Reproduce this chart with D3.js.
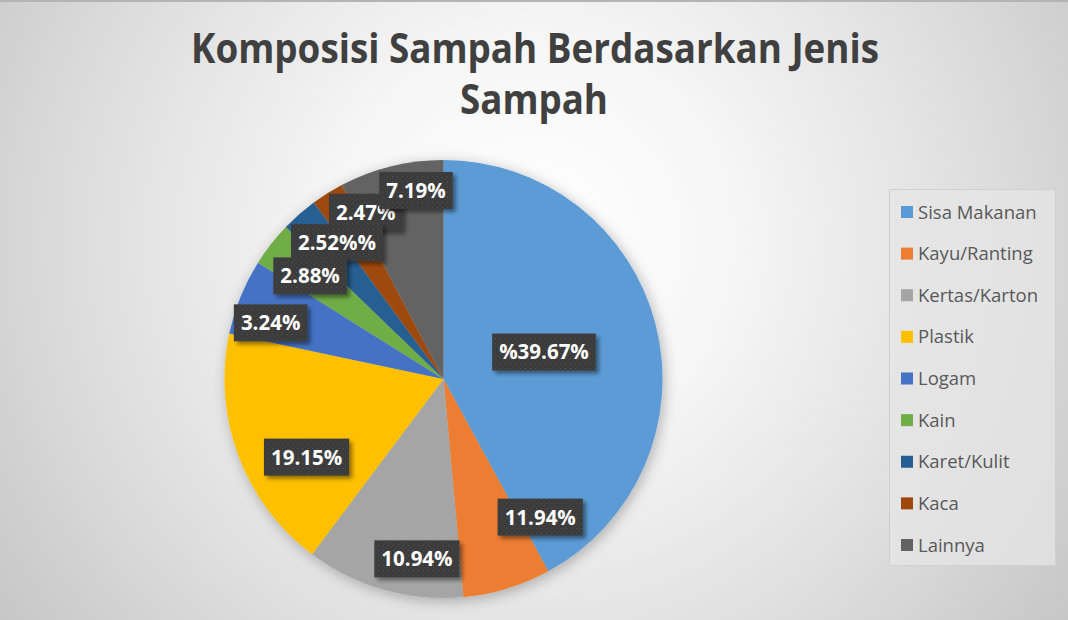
<!DOCTYPE html>
<html>
<head>
<meta charset="utf-8">
<script src="https://cdn.jsdelivr.net/npm/d3@7"></script>
<style>
  html, body { margin: 0; padding: 0; background: #ffffff; }
  svg { display: block; }
</style>
</head>
<body>
<svg id="chart" width="1068" height="620"></svg>
<script>
// ---- data ----
const categories = ["Sisa Makanan", "Kayu/Ranting", "Kertas/Karton", "Plastik", "Logam", "Kain", "Karet/Kulit", "Kaca", "Lainnya"];
// slice sizes as drawn in the picture (percent of the circle)
const sliceValues = [42.1, 6.5, 11.7, 18.1, 5.6, 3.3, 2.7, 2.4, 7.7];
// data label texts exactly as printed on the chart
const labelTexts = ["%39.67%", "11.94%", "10.94%", "19.15%", "3.24%", "2.88%", "2.52%%", "2.47%", "7.19%"];
const colors = ["#5B9BD5", "#ED7D31", "#A5A5A5", "#FFC000", "#4472C4", "#70AD47", "#255E91", "#9E480E", "#636363"];
const titleLines = ["Komposisi Sampah Berdasarkan Jenis", "Sampah"];

// label anchors (polar: degrees clockwise from 12 o'clock, fraction of radius)
const labelAngles = [75, 145, 188.4, 240.3, 288, 307.7, 322, 335, 351.7];
const labelRadii = [0.475, 0.77, 0.83, 0.72, 0.83, 0.77, 0.79, 0.84, 0.87];
const labelOrder = [0, 1, 2, 3, 7, 6, 5, 4, 8];

// ---- layout ----
const W = 1068, H = 620;
const cx = 443.5, cy = 379, R = 219;

const svg = d3.select("#chart");
const defs = svg.append("defs");

// background gradient
const bg = defs.append("radialGradient").attr("id", "bg")
  .attr("gradientUnits", "userSpaceOnUse")
  .attr("cx", 534).attr("cy", 240).attr("r", 660);
bg.append("stop").attr("offset", 0).attr("stop-color", "#ffffff");
bg.append("stop").attr("offset", 0.3).attr("stop-color", "#f6f6f6");
bg.append("stop").attr("offset", 0.65).attr("stop-color", "#e0e0e0");
bg.append("stop").attr("offset", 1).attr("stop-color", "#c6c6c6");

svg.append("rect").attr("width", W).attr("height", H).attr("fill", "url(#bg)");
svg.append("rect").attr("width", W).attr("height", 2).attr("fill", "#b4b4b4");

// pie shadow
const sh = defs.append("filter").attr("id", "pieShadow")
  .attr("x", "-20%").attr("y", "-20%").attr("width", "140%").attr("height", "140%");
sh.append("feGaussianBlur").attr("in", "SourceAlpha").attr("stdDeviation", 7).attr("result", "b");
sh.append("feOffset").attr("in", "b").attr("dx", 2).attr("dy", 3).attr("result", "o");
sh.append("feComponentTransfer").attr("in", "o").attr("result", "t")
  .append("feFuncA").attr("type", "linear").attr("slope", 0.28);
const shm = sh.append("feMerge");
shm.append("feMergeNode").attr("in", "t");
shm.append("feMergeNode").attr("in", "SourceGraphic");

// label shadow
const lsh = defs.append("filter").attr("id", "lblShadow")
  .attr("x", "-20%").attr("y", "-30%").attr("width", "150%").attr("height", "170%");
lsh.append("feGaussianBlur").attr("in", "SourceAlpha").attr("stdDeviation", 2).attr("result", "b");
lsh.append("feOffset").attr("in", "b").attr("dx", 3).attr("dy", 3).attr("result", "o");
lsh.append("feComponentTransfer").attr("in", "o").attr("result", "t")
  .append("feFuncA").attr("type", "linear").attr("slope", 0.45);
const lshm = lsh.append("feMerge");
lshm.append("feMergeNode").attr("in", "t");
lshm.append("feMergeNode").attr("in", "SourceGraphic");

// dotted texture for label boxes
const pat = defs.append("pattern").attr("id", "dots")
  .attr("patternUnits", "userSpaceOnUse").attr("width", 5).attr("height", 5);
pat.append("rect").attr("width", 5).attr("height", 5).attr("fill", "#3b3b3b");
pat.append("rect").attr("x", 1).attr("y", 1).attr("width", 1).attr("height", 1).attr("fill", "#5a5a5a");
pat.append("rect").attr("x", 3.5).attr("y", 3.5).attr("width", 1).attr("height", 1).attr("fill", "#4e4e4e");

// title
const title = svg.append("g").attr("font-family", "'Open Sans', sans-serif")
  .attr("font-weight", "bold").attr("fill", "#404040").attr("text-anchor", "middle");
title.append("text").attr("x", 535).attr("y", 63).attr("font-size", 41)
  .attr("textLength", 688).attr("lengthAdjust", "spacingAndGlyphs").text(titleLines[0]);
title.append("text").attr("x", 534).attr("y", 114).attr("font-size", 41)
  .attr("textLength", 148).attr("lengthAdjust", "spacingAndGlyphs").text(titleLines[1]);

// pie
const pie = d3.pie().sort(null).value(d => d.v);
const data = categories.map((c, i) => ({ c, v: sliceValues[i], i }));
const arcs = pie(data);
const arc = d3.arc().innerRadius(0).outerRadius(R);

const pg = svg.append("g").attr("transform", `translate(${cx},${cy})`).attr("filter", "url(#pieShadow)");
pg.selectAll("path").data(arcs).enter().append("path")
  .attr("d", arc).attr("fill", d => colors[d.data.i]);

// data labels
const lg = svg.append("g").attr("transform", `translate(${cx},${cy})`);
labelOrder.forEach(i => {
  const a = labelAngles[i] * Math.PI / 180;
  const r = labelRadii[i] * R;
  const x = Math.sin(a) * r, y = -Math.cos(a) * r;
  const g = lg.append("g").attr("transform", `translate(${x},${y})`);
  const box = g.append("rect").attr("fill", "url(#dots)").attr("filter", "url(#lblShadow)");
  const t = g.append("text").attr("text-anchor", "middle").attr("dy", "0.36em")
    .attr("font-family", "'Open Sans', sans-serif").attr("font-weight", "bold")
    .attr("font-size", 20.5).attr("fill", "#ffffff").text(labelTexts[i]);
  const w = t.node().getComputedTextLength();
  box.attr("x", -w / 2 - 7).attr("y", -18.5).attr("width", w + 14).attr("height", 37);
});

// legend
const legend = svg.append("g");
legend.append("rect").attr("x", 889.5).attr("y", 189.5).attr("width", 166).attr("height", 376)
  .attr("fill", "#e6e6e6").attr("fill-opacity", 0.75).attr("stroke", "#d0d0d0").attr("stroke-width", 1);
const rowY = d3.scalePoint().domain(categories).range([212, 545]);
const items = legend.selectAll("g.item").data(categories).enter().append("g")
  .attr("transform", d => `translate(0,${rowY(d)})`);
items.append("rect").attr("x", 901).attr("y", -6).attr("width", 12).attr("height", 12)
  .attr("fill", (d, i) => colors[i]);
items.append("text").attr("x", 918).attr("y", 6.5)
  .attr("font-family", "'Open Sans', sans-serif").attr("font-size", 18.5).attr("fill", "#595959")
  .text(d => d);
</script>
</body>
</html>
